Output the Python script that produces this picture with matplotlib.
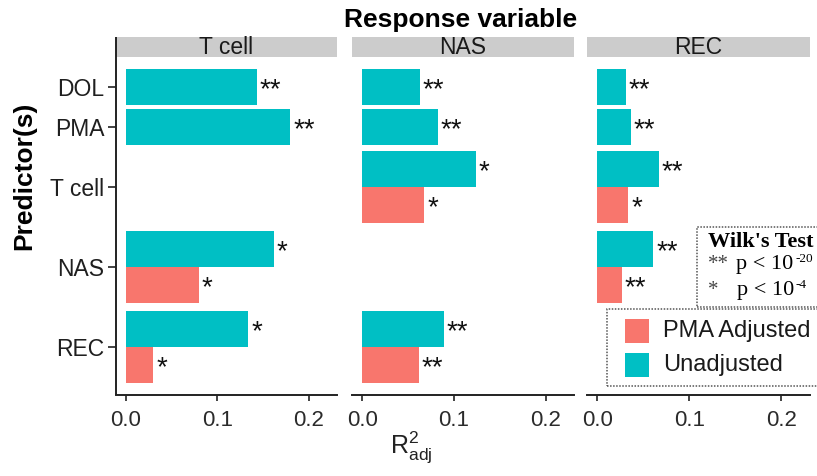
import numpy as np
import matplotlib
matplotlib.use("Agg")
import matplotlib.pyplot as plt
from matplotlib.patches import Rectangle

plt.rcParams['font.family'] = ['Liberation Sans', 'DejaVu Sans']
plt.rcParams['mathtext.fontset'] = 'custom'
plt.rcParams['mathtext.rm'] = 'Liberation Serif'
plt.rcParams['mathtext.sf'] = 'Liberation Sans'

# ---------------- data ----------------
predictors = ['DOL', 'PMA', 'T cell', 'NAS', 'REC']
responses = ['T cell', 'NAS', 'REC']
nan = np.nan

unadj_tcell = [0.143, 0.180, nan, 0.162, 0.134]
unadj_nas = [0.063, 0.083, 0.124, nan, 0.089]
unadj_rec = [0.031, 0.037, 0.067, 0.061, nan]

adj_tcell = [nan, nan, nan, 0.080, 0.030]
adj_nas = [nan, nan, 0.068, nan, 0.062]
adj_rec = [nan, nan, 0.034, 0.027, nan]

sig_unadj_tcell = ['**', '**', '', '*', '*']
sig_unadj_nas = ['**', '**', '*', '', '**']
sig_unadj_rec = ['**', '**', '**', '**', '']

sig_adj_tcell = ['', '', '', '*', '*']
sig_adj_nas = ['', '', '*', '', '**']
sig_adj_rec = ['', '', '*', '**', '']

xticks = [0.0, 0.1, 0.2]
xtick_labels = ['0.0', '0.1', '0.2']

unadj_all = [unadj_tcell, unadj_nas, unadj_rec]
adj_all = [adj_tcell, adj_nas, adj_rec]
sig_u_all = [sig_unadj_tcell, sig_unadj_nas, sig_unadj_rec]
sig_a_all = [sig_adj_tcell, sig_adj_nas, sig_adj_rec]

COL_ADJ = '#F8766D'
COL_UN = '#00BFC4'

# row layout: rows with an adjusted value get two bar slots
has_adj = np.array([any(not np.isnan(a[i]) for a in adj_all) for i in range(len(predictors))])
widths = np.where(has_adj, 2.0, 1.0)
centers = np.cumsum(widths) - widths / 2 - 0.5
bh = 0.9

# ---------------- figure ----------------
W, H = 817, 476
fig = plt.figure(figsize=(W / 100, H / 100), dpi=100)

def fx(px):
    return px / W

def fy(py):
    return 1 - py / H

panel_px = [(116, 337), (352, 574), (587, 810)]
top_px, bot_px = 57, 395
strip_h = 20
STAR_FS = 20
star_dy = 0.08

for k, resp in enumerate(responses):
    x0, x1 = panel_px[k]
    ax = fig.add_axes([fx(x0), fy(bot_px), (x1 - x0) / W, (bot_px - top_px) / H])
    un = np.array(unadj_all[k])
    ad = np.array(adj_all[k])
    for i in range(len(predictors)):
        c = centers[i]
        yu = c - bh / 2 if has_adj[i] else c
        ya = c + bh / 2
        if not np.isnan(un[i]):
            ax.barh(yu, un[i], height=bh, color=COL_UN, linewidth=0)
            ax.text(un[i] + 0.003, yu + star_dy, sig_u_all[k][i], ha='left', va='center',
                    fontsize=STAR_FS, color='#111111')
        if not np.isnan(ad[i]):
            ax.barh(ya, ad[i], height=bh, color=COL_ADJ, linewidth=0)
            ax.text(ad[i] + 0.003, ya + star_dy, sig_a_all[k][i], ha='left', va='center',
                    fontsize=STAR_FS, color='#111111')
    ax.set_xlim(-0.011, 0.231)
    ax.set_ylim(7.7, -0.75)
    ax.set_xticks(xticks)
    ax.set_xticklabels(xtick_labels, fontsize=16, color='#2b2b2b')
    ax.tick_params(axis='x', length=4.5, width=1.2, pad=6, color='#222222')
    for s in ['top', 'right', 'left']:
        ax.spines[s].set_visible(False)
    ax.spines['bottom'].set_linewidth(1.4)
    ax.spines['bottom'].set_color('#222222')
    if k == 0:
        ax.set_yticks(centers)
        ax.set_yticklabels(predictors, fontsize=16.5, color='#1f1f1f')
        ax.tick_params(axis='y', length=5.5, width=1.2, pad=3, color='#222222')
        frac = strip_h / (bot_px - top_px)
        ax.plot([0, 0], [0, 1 + frac], transform=ax.transAxes, color='#222222',
                lw=1.4, clip_on=False, solid_capstyle='butt')
    else:
        ax.set_yticks([])
    # strip
    frac = strip_h / (bot_px - top_px)
    ax.add_patch(Rectangle((0, 1), 1, frac, transform=ax.transAxes,
                           facecolor='#CCCCCC', edgecolor='none', clip_on=False))
    ax.text(0.5, 1 + frac / 2, resp, transform=ax.transAxes, ha='center',
            va='center', fontsize=16.5, color='#1a1a1a')

# titles / labels
fig.text(fx(461), fy(27), 'Response variable', ha='center', va='baseline',
         fontsize=19, fontweight='bold')
fig.text(fx(24), fy(176), 'Predictor(s)', ha='center', va='center',
         rotation=90, fontsize=19, fontweight='bold')
fig.text(fx(390), fy(453), r'$\mathsf{R^2_{adj}}$', ha='left', va='baseline',
         fontsize=18, color='#222222')

# Wilk's test box
SERIF = ['Liberation Serif']
fig.patches.append(Rectangle((fx(697), fy(307)), fx(830) - fx(697), fy(227) - fy(307),
                             transform=fig.transFigure, facecolor='none',
                             edgecolor='#555555', lw=1.1, linestyle=(0, (1, 1))))
fig.text(fx(708), fy(247), "Wilk's Test", ha='left', va='baseline', fontsize=16,
         fontweight='bold', family=SERIF)
fig.text(fx(708), fy(269), '**', ha='left', va='baseline', fontsize=15,
         family=SERIF, color='#444444')
fig.text(fx(736), fy(269), 'p < 10', ha='left', va='baseline', fontsize=16,
         family=SERIF)
fig.text(fx(795), fy(262), '-20', ha='left', va='baseline', fontsize=9.5,
         family=SERIF)
fig.text(fx(708), fy(295), '*', ha='left', va='baseline', fontsize=15,
         family=SERIF, color='#444444')
fig.text(fx(737), fy(295), 'p < 10', ha='left', va='baseline', fontsize=16,
         family=SERIF)
fig.text(fx(796), fy(288), '-4', ha='left', va='baseline', fontsize=9.5,
         family=SERIF)

# legend box
fig.patches.append(Rectangle((fx(607), fy(386)), fx(830) - fx(607), fy(309) - fy(386),
                             transform=fig.transFigure, facecolor='none',
                             edgecolor='#555555', lw=1.1, linestyle=(0, (1, 1))))
leg_labels = ['PMA Adjusted', 'Unadjusted']
leg_cols = [COL_ADJ, COL_UN]
for j, (lab, col) in enumerate(zip(leg_labels, leg_cols)):
    ytop = 319 + 34 * j
    fig.patches.append(Rectangle((fx(625), fy(ytop + 24)), 24 / W, 24 / H,
                                 transform=fig.transFigure, facecolor=col,
                                 edgecolor='none'))
    fig.text(fx(663), fy(ytop + 12), lab, ha='left', va='center', fontsize=17,
             color='#1a1a1a')

fig.savefig('out.png', dpi=100)
